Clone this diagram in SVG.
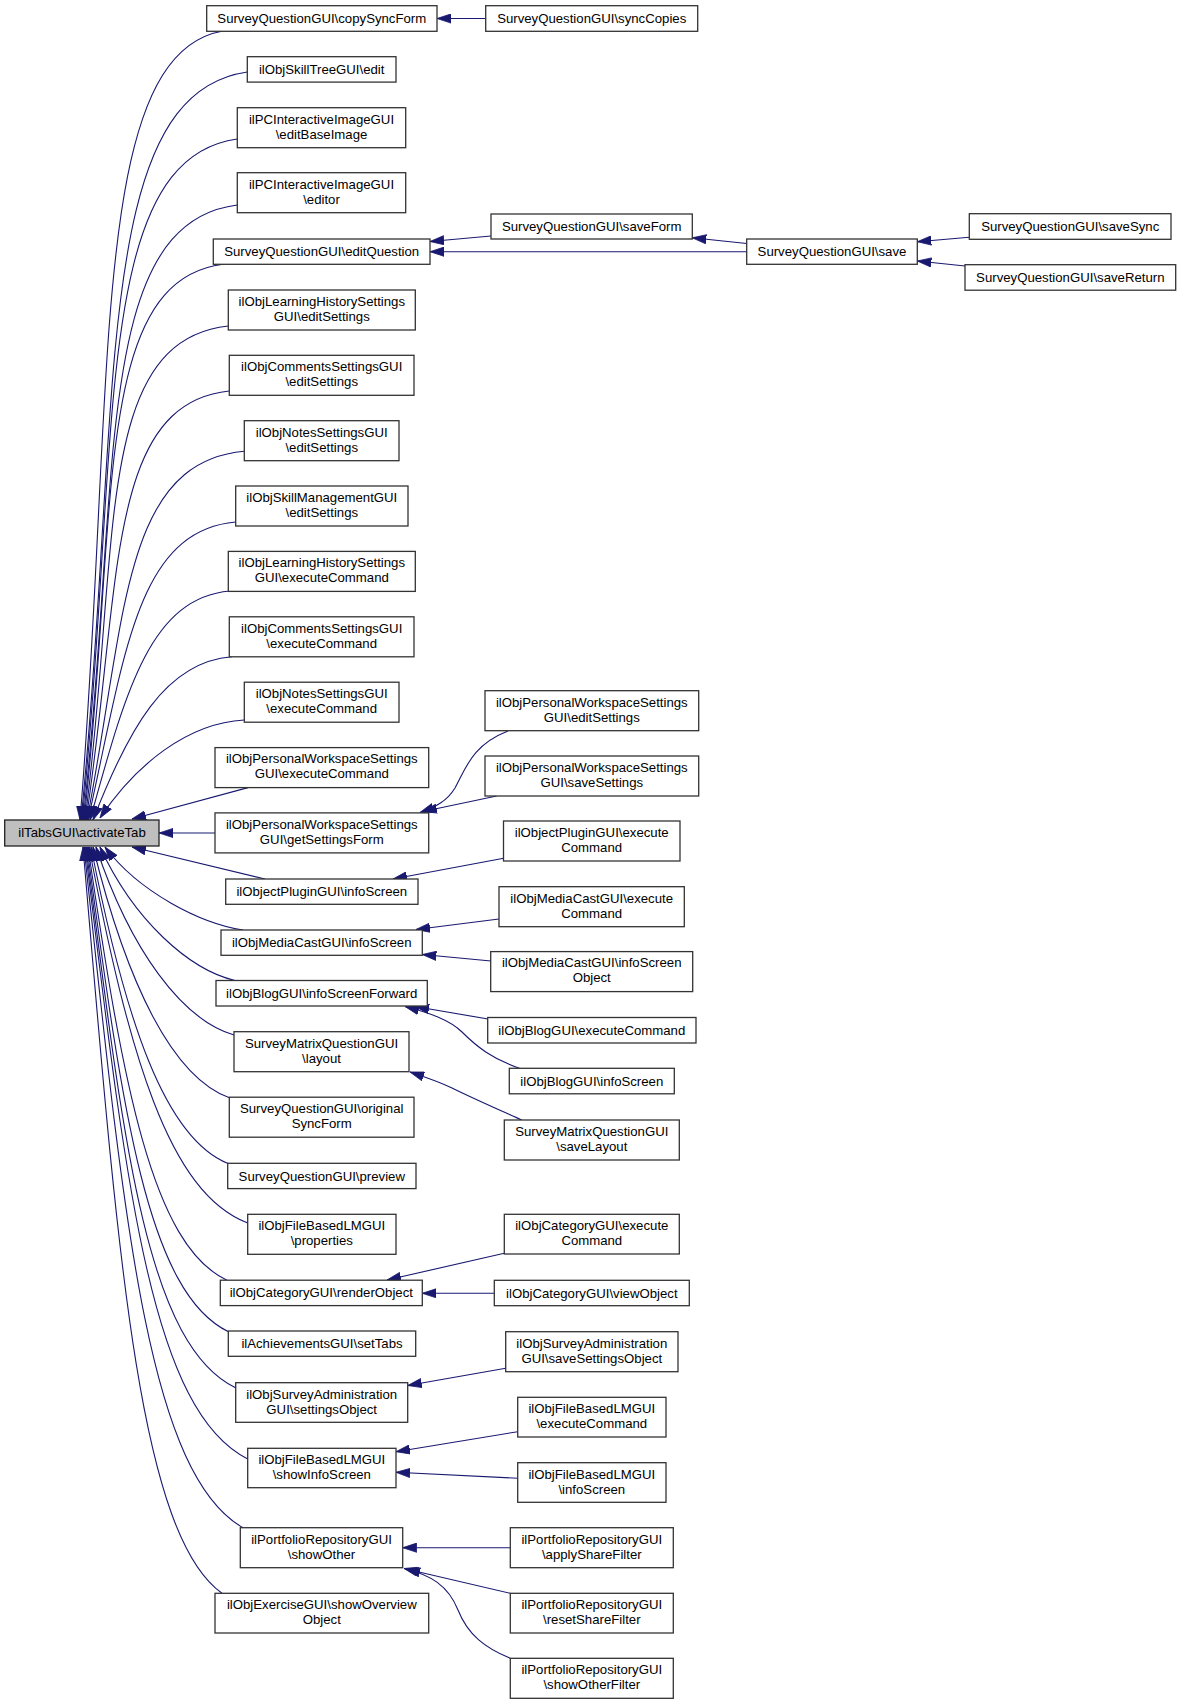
<svg xmlns="http://www.w3.org/2000/svg" width="1181" height="1705" viewBox="0 0 1181 1705">
<defs>
<marker id="ah" markerUnits="userSpaceOnUse" viewBox="0 0 14 10" markerWidth="14" markerHeight="10" refX="14" refY="5" orient="auto">
<path d="M0,0.4 L14,5 L0,9.6 z" fill="#191970" stroke="#191970" stroke-width="0.8"/>
</marker>
<style>
rect{fill:#ffffff;stroke:#333333;stroke-width:1.3}
#root rect{fill:#bfbfbf;stroke:#222222}
text{font-family:"Liberation Sans",Arial,sans-serif;font-size:13.2px;fill:#000000;text-anchor:middle}
#edges path{fill:none;stroke:#191970;stroke-width:1.1;marker-end:url(#ah)}
</style>
</defs>
<rect x="0" y="0" width="1181" height="1705" style="fill:#ffffff;stroke:none"/>
<g id="edges">
<path d="M223,31 C87.2,54.7 115.8,386 80,820"/>
<path d="M247.3,72 C89.3,94.4 122.6,408.6 81,820"/>
<path d="M237.3,139 C89.8,159.4 120.8,445.5 82,820"/>
<path d="M237.3,205 C90.7,223.5 121.6,481.8 83,820"/>
<path d="M223,264.3 C91,281 118.8,514.4 84,820"/>
<path d="M228.3,326 C92.2,340.8 120.8,548.3 85,820"/>
<path d="M229.3,391 C105.6,403.9 121.8,584 86,820"/>
<path d="M244.3,451.3 C122.1,462.4 126.3,617.2 87,820"/>
<path d="M235.7,522 C135.9,531 124.9,656.1 88,820"/>
<path d="M230,591 C149.2,597.9 125,694 90,820"/>
<path d="M232,656.8 C164.9,661.7 127.8,730.2 93,820"/>
<path d="M244.3,720 C188,723 136,764.1 100,818"/>
<path d="M248,787.6 L132,819"/>
<path d="M215,833 L159,833"/>
<path d="M265,879 L132,847"/>
<path d="M243,930 C200.9,923.4 139.5,892.7 105,847"/>
<path d="M235,980.5 C189.2,969.8 133.8,920.4 100,847"/>
<path d="M234,1035 C182.2,1020 130.5,950.4 96,847"/>
<path d="M230,1098 C172.9,1077.9 127.3,985 93,847"/>
<path d="M228,1163.5 C164.8,1138.2 125.3,1021 91,847"/>
<path d="M247.7,1223 C168.3,1192.9 128.7,1053.8 89,847"/>
<path d="M227,1280.2 C152.1,1245.5 122.8,1085.3 88,847"/>
<path d="M229,1332 C147.6,1293.2 122.5,1113.8 87,847"/>
<path d="M236,1388 C146,1344.7 123.5,1144.6 86,847"/>
<path d="M247.7,1459 C150.1,1410 125.7,1183.6 85,847"/>
<path d="M243,1527.7 C147.6,1473.2 123.8,1221.4 84,847"/>
<path d="M222,1593.3 C138.6,1533.6 117.8,1257.5 83,847"/>
<path d="M485.7,18.5 L437,18.5"/>
<path d="M491,236 L430,241.5"/>
<path d="M746.7,251.7 L430,251.7"/>
<path d="M746.7,243.5 L692.3,237.8"/>
<path d="M969.3,237.3 L917.3,241.7"/>
<path d="M965,266 L917.3,261"/>
<path d="M508,731 C472,745 466,768 455,788 C447,801 436,807 420,812.5"/>
<path d="M496.7,796 L423,811.5"/>
<path d="M503.7,858.3 L393,879"/>
<path d="M499,919 L416,929.5"/>
<path d="M491,961 L422.3,954.5"/>
<path d="M488,1019 L415,1006.5"/>
<path d="M520,1068.4 C492,1059 476,1046 462,1032 C450,1020 430,1013 405,1006.5"/>
<path d="M521.7,1120 C495,1108 470,1097 452,1088 C438,1081 425,1077 410,1072"/>
<path d="M504.3,1253.3 L387,1280"/>
<path d="M494.3,1293.3 L422.3,1293.3"/>
<path d="M505.7,1368.3 L407.7,1385.5"/>
<path d="M517.7,1431.7 L396,1451.7"/>
<path d="M517.7,1478.3 L396,1472.3"/>
<path d="M510.3,1547.7 L402.7,1547.7"/>
<path d="M510.3,1593.3 L404,1568.5"/>
<path d="M510.3,1658.3 C485,1648 468,1635 458,1610 C448,1585 430,1575 406,1569"/>
</g>
<g id="root"><rect x="4.7" y="820" width="154.3" height="26"/><text x="82" y="837.4">ilTabsGUI\activateTab</text></g>
<g id="n1"><rect x="206.7" y="5.7" width="230.3" height="25.6"/><text x="321.8" y="22.9">SurveyQuestionGUI\copySyncForm</text></g>
<g id="n2"><rect x="247.3" y="56.7" width="148.7" height="25.4"/><text x="321.7" y="73.9">ilObjSkillTreeGUI\edit</text></g>
<g id="n3"><rect x="237.3" y="107.7" width="168.4" height="40"/><text x="321.5" y="123.5">ilPCInteractiveImageGUI</text><text x="321.5" y="138.5">\editBaseImage</text></g>
<g id="n4"><rect x="237.3" y="172.7" width="168.4" height="40"/><text x="321.5" y="188.5">ilPCInteractiveImageGUI</text><text x="321.5" y="203.5">\editor</text></g>
<g id="n5"><rect x="213.3" y="239" width="216.7" height="25.3"/><text x="321.7" y="256.2">SurveyQuestionGUI\editQuestion</text></g>
<g id="n6"><rect x="228.3" y="290" width="187" height="40"/><text x="321.8" y="305.8">ilObjLearningHistorySettings</text><text x="321.8" y="320.8">GUI\editSettings</text></g>
<g id="n7"><rect x="229.3" y="355.3" width="184.7" height="40"/><text x="321.7" y="371.1">ilObjCommentsSettingsGUI</text><text x="321.7" y="386.1">\editSettings</text></g>
<g id="n8"><rect x="244.3" y="420.7" width="154.7" height="40"/><text x="321.7" y="436.5">ilObjNotesSettingsGUI</text><text x="321.7" y="451.5">\editSettings</text></g>
<g id="n9"><rect x="235.7" y="486" width="172.3" height="40"/><text x="321.8" y="501.8">ilObjSkillManagementGUI</text><text x="321.8" y="516.8">\editSettings</text></g>
<g id="n10"><rect x="228.3" y="551.4" width="187" height="40"/><text x="321.8" y="567.2">ilObjLearningHistorySettings</text><text x="321.8" y="582.2">GUI\executeCommand</text></g>
<g id="n11"><rect x="229.3" y="616.8" width="184.7" height="40"/><text x="321.7" y="632.6">ilObjCommentsSettingsGUI</text><text x="321.7" y="647.6">\executeCommand</text></g>
<g id="n12"><rect x="244.3" y="682.2" width="154.7" height="40"/><text x="321.7" y="698">ilObjNotesSettingsGUI</text><text x="321.7" y="713">\executeCommand</text></g>
<g id="n13"><rect x="215" y="747.6" width="213.7" height="40"/><text x="321.8" y="763.4">ilObjPersonalWorkspaceSettings</text><text x="321.8" y="778.4">GUI\executeCommand</text></g>
<g id="n14"><rect x="215" y="812.9" width="213.7" height="40"/><text x="321.8" y="828.7">ilObjPersonalWorkspaceSettings</text><text x="321.8" y="843.7">GUI\getSettingsForm</text></g>
<g id="n15"><rect x="225.7" y="879" width="192.3" height="25.3"/><text x="321.8" y="896.2">ilObjectPluginGUI\infoScreen</text></g>
<g id="n16"><rect x="221" y="930" width="201.3" height="25.3"/><text x="321.7" y="947.2">ilObjMediaCastGUI\infoScreen</text></g>
<g id="n17"><rect x="216" y="980.5" width="211.3" height="25.5"/><text x="321.7" y="997.7">ilObjBlogGUI\infoScreenForward</text></g>
<g id="n18"><rect x="234" y="1031.7" width="175" height="40"/><text x="321.5" y="1047.5">SurveyMatrixQuestionGUI</text><text x="321.5" y="1062.5">\layout</text></g>
<g id="n19"><rect x="229.3" y="1097.2" width="184.7" height="40"/><text x="321.7" y="1113">SurveyQuestionGUI\original</text><text x="321.7" y="1128">SyncForm</text></g>
<g id="n20"><rect x="227.7" y="1163.3" width="188.3" height="25.3"/><text x="321.8" y="1180.5">SurveyQuestionGUI\preview</text></g>
<g id="n21"><rect x="247.7" y="1214.3" width="148.3" height="40"/><text x="321.8" y="1230.1">ilObjFileBasedLMGUI</text><text x="321.8" y="1245.1">\properties</text></g>
<g id="n22"><rect x="220.3" y="1280.2" width="202" height="25.4"/><text x="321.3" y="1297.4">ilObjCategoryGUI\renderObject</text></g>
<g id="n23"><rect x="228.3" y="1331" width="187.4" height="25.3"/><text x="322" y="1348.2">ilAchievementsGUI\setTabs</text></g>
<g id="n24"><rect x="235.7" y="1382.7" width="172" height="39.6"/><text x="321.7" y="1398.5">ilObjSurveyAdministration</text><text x="321.7" y="1413.5">GUI\settingsObject</text></g>
<g id="n25"><rect x="247.7" y="1448.3" width="148.3" height="39.4"/><text x="321.8" y="1464.1">ilObjFileBasedLMGUI</text><text x="321.8" y="1479.1">\showInfoScreen</text></g>
<g id="n26"><rect x="240.3" y="1527.7" width="162.4" height="40"/><text x="321.5" y="1543.5">ilPortfolioRepositoryGUI</text><text x="321.5" y="1558.5">\showOther</text></g>
<g id="n27"><rect x="215" y="1593.3" width="213.7" height="39.7"/><text x="321.8" y="1609.1">ilObjExerciseGUI\showOverview</text><text x="321.8" y="1624.1">Object</text></g>
<g id="m1"><rect x="485.7" y="5.7" width="212" height="25.6"/><text x="591.7" y="22.9">SurveyQuestionGUI\syncCopies</text></g>
<g id="m2"><rect x="491" y="214" width="201.3" height="25"/><text x="591.7" y="231">SurveyQuestionGUI\saveForm</text></g>
<g id="m3"><rect x="485" y="690.7" width="213.7" height="40"/><text x="591.8" y="706.5">ilObjPersonalWorkspaceSettings</text><text x="591.8" y="721.5">GUI\editSettings</text></g>
<g id="m4"><rect x="485" y="756" width="213.7" height="40"/><text x="591.8" y="771.8">ilObjPersonalWorkspaceSettings</text><text x="591.8" y="786.8">GUI\saveSettings</text></g>
<g id="m5"><rect x="503.5" y="821" width="176.5" height="40"/><text x="591.7" y="836.8">ilObjectPluginGUI\execute</text><text x="591.7" y="851.8">Command</text></g>
<g id="m6"><rect x="499" y="886.7" width="185.3" height="40"/><text x="591.7" y="902.5">ilObjMediaCastGUI\execute</text><text x="591.7" y="917.5">Command</text></g>
<g id="m7"><rect x="490.7" y="951.6" width="202" height="40"/><text x="591.7" y="967.4">ilObjMediaCastGUI\infoScreen</text><text x="591.7" y="982.4">Object</text></g>
<g id="m8"><rect x="487.7" y="1017.5" width="208.3" height="25.5"/><text x="591.8" y="1034.7">ilObjBlogGUI\executeCommand</text></g>
<g id="m9"><rect x="509.3" y="1068.3" width="165" height="25.5"/><text x="591.8" y="1085.5">ilObjBlogGUI\infoScreen</text></g>
<g id="m10"><rect x="504.3" y="1120" width="175" height="40"/><text x="591.8" y="1135.8">SurveyMatrixQuestionGUI</text><text x="591.8" y="1150.8">\saveLayout</text></g>
<g id="m11"><rect x="504.3" y="1214.3" width="175" height="39.7"/><text x="591.8" y="1230.1">ilObjCategoryGUI\execute</text><text x="591.8" y="1245.1">Command</text></g>
<g id="m12"><rect x="494.3" y="1280.3" width="195" height="25.4"/><text x="591.8" y="1297.5">ilObjCategoryGUI\viewObject</text></g>
<g id="m13"><rect x="505.7" y="1331.7" width="172.3" height="40"/><text x="591.8" y="1347.5">ilObjSurveyAdministration</text><text x="591.8" y="1362.5">GUI\saveSettingsObject</text></g>
<g id="m14"><rect x="517.7" y="1397.3" width="148.3" height="39.7"/><text x="591.8" y="1413.1">ilObjFileBasedLMGUI</text><text x="591.8" y="1428.1">\executeCommand</text></g>
<g id="m15"><rect x="517.7" y="1462.7" width="148.3" height="39.6"/><text x="591.8" y="1478.5">ilObjFileBasedLMGUI</text><text x="591.8" y="1493.5">\infoScreen</text></g>
<g id="m16"><rect x="510.3" y="1527.7" width="163" height="40"/><text x="591.8" y="1543.5">ilPortfolioRepositoryGUI</text><text x="591.8" y="1558.5">\applyShareFilter</text></g>
<g id="m17"><rect x="510.3" y="1593.3" width="163" height="39.7"/><text x="591.8" y="1609.1">ilPortfolioRepositoryGUI</text><text x="591.8" y="1624.1">\resetShareFilter</text></g>
<g id="m18"><rect x="510.3" y="1658.3" width="163" height="40"/><text x="591.8" y="1674.1">ilPortfolioRepositoryGUI</text><text x="591.8" y="1689.1">\showOtherFilter</text></g>
<g id="r3"><rect x="746.7" y="239" width="170.6" height="25.3"/><text x="832" y="256.2">SurveyQuestionGUI\save</text></g>
<g id="r4a"><rect x="969.3" y="213.7" width="201.7" height="25.6"/><text x="1070.2" y="230.9">SurveyQuestionGUI\saveSync</text></g>
<g id="r4b"><rect x="965" y="264.7" width="210.7" height="25.5"/><text x="1070.3" y="281.9">SurveyQuestionGUI\saveReturn</text></g>
</svg>
